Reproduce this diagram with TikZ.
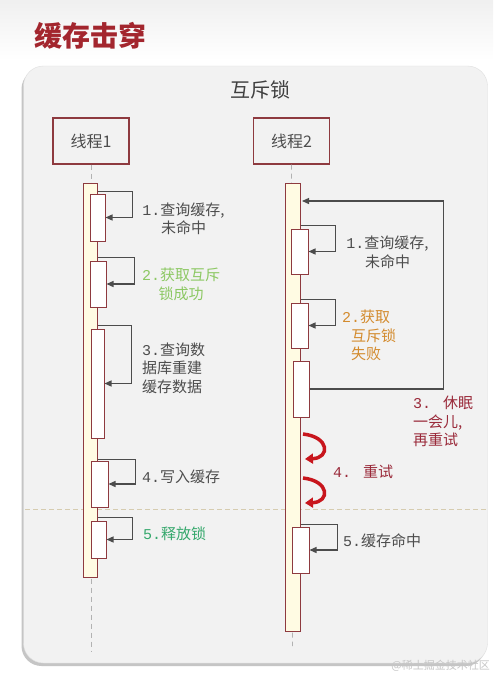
\documentclass[tikz,border=0pt]{standalone}
\usepackage{fontspec}
\setmainfont{Noto Sans CJK SC}
\newfontfamily\monof{Liberation Mono}
\usetikzlibrary{arrows.meta,shadows,calc}
\definecolor{titlered}{HTML}{A3262E}
\definecolor{boxred}{HTML}{8E3A3F}
\definecolor{txtgray}{HTML}{4D4D4D}
\definecolor{lightgreen}{HTML}{8CC863}
\definecolor{tealgreen}{HTML}{35A86C}
\definecolor{orangetxt}{HTML}{D38B2E}
\definecolor{darkred}{HTML}{9A2A3A}
\definecolor{retryred}{HTML}{C8161D}
\definecolor{panelbg}{HTML}{F2F2F2}
\definecolor{barfill}{HTML}{FFFBE3}
\definecolor{sepline}{HTML}{D6CCB0}
\begin{document}
\begin{tikzpicture}[x=1pt,y=-1pt,
  header/.style={draw=boxred,line width=1.3pt,fill=panelbg,minimum width=76pt,minimum height=46pt,inner sep=0pt,text=txtgray,font=\fontsize{16}{18}\selectfont},
  actbar/.style={draw=boxred,line width=1pt,fill=barfill,inner sep=0pt},
  actbox/.style={draw=boxred,line width=1pt,fill=white,inner sep=0pt},
  lifeline/.style={draw=gray!60,line width=0.8pt,dash pattern=on 5pt off 4pt},
  loopline/.style={draw=black!70,line width=1.3pt,-{Triangle[length=7pt,width=6pt]}},
  retry/.style={draw=retryred,line width=3.5pt,-{Triangle[length=8pt,width=10pt]}},
  body/.style={inner sep=0pt,font=\fontsize{15}{18.5}\selectfont},
]
\useasboundingbox (0,0) rectangle (493,675);
% page background
\fill[white] (0,0) rectangle (493,675);
\shade[top color=gray!12,bottom color=white] (0,0) rectangle (493,60);
% title
\node[text=titlered,font=\fontsize{28}{30}\selectfont\bfseries,anchor=west,inner sep=0pt] (title) at (34,36) {缓存击穿};
% panel
\node[draw=gray!25,fill=panelbg,rounded corners=20pt,minimum width=464pt,minimum height=597pt,inner sep=0pt,
  drop shadow={shadow xshift=-2pt,shadow yshift=-3pt,fill=black!45,opacity=0.5}] (panel) at (255.5,364.5) {};
\node[text=black!75,font=\fontsize{20}{22}\selectfont,inner sep=0pt] (sub) at (260,90) {互斥锁};
% headers
\node[header] (h1) at (91,141) {线程1};
\node[header] (h2) at (291.5,141) {线程2};
% separator
\coordinate (sepL) at (25,509);
\coordinate (sepR) at (487,509);
\draw[sepline,line width=0.8pt,dash pattern=on 5pt off 3pt] (sepL) -- (sepR);
% lifelines
\coordinate (l1end) at (91,652);
\coordinate (l2end) at (292.5,646);
\draw[lifeline] (h1.south) -- (l1end);
\draw[lifeline] (h2.south) -- (l2end);
% activation bars
\node[actbar,minimum width=14pt,minimum height=394pt] (bar1) at (90,380) {};
\node[actbar,minimum width=15pt,minimum height=448pt] (bar2) at (292.5,407) {};
% thread1 boxes
\node[actbox,minimum width=15pt,minimum height=47pt] (a1) at (97.5,217.5) {};
\node[actbox,minimum width=16pt,minimum height=46pt] (a2) at (98,284) {};
\node[actbox,minimum width=13pt,minimum height=109pt] (a3) at (97.5,383.5) {};
\node[actbox,minimum width=17pt,minimum height=46pt] (a4) at (99.5,484) {};
\node[actbox,minimum width=15pt,minimum height=37pt] (a5) at (98.5,539.5) {};
% thread1 loops
\draw[loopline] ([yshift=2pt]a1.north -| bar1.east) -- ++(35,0) |- (a1.east);
\draw[loopline] ([yshift=3pt]a2.north -| bar1.east) -- ++(37,0) |- (a2.east);
\draw[loopline] ([yshift=3pt]a3.north -| bar1.east) -- ++(34,0) |- (a3.east);
\draw[loopline] ([yshift=1pt]a4.north -| bar1.east) -- ++(38,0) |- (a4.east);
\draw[loopline] ([yshift=3pt]a5.north -| bar1.east) -- ++(35,0) |- (a5.east);
% thread1 texts
\node[body,text=txtgray,align=center] (t11) at (183.5,219) {{\monof 1.}查询缓存,\\未命中};
\node[body,text=lightgreen,align=center] (t12) at (181,284.5) {{\monof 2.}获取互斥\\锁成功};
\node[body,text=txtgray,align=left,anchor=west] (t13) at (142,368) {{\monof 3.}查询数\\据库重建\\缓存数据};
\node[body,text=txtgray,anchor=west] (t14) at (142,477) {{\monof 4.}写入缓存};
\node[body,text=tealgreen,anchor=west] (t15) at (143,534) {{\monof 5.}释放锁};
% thread2 boxes
\node[actbox,minimum width=17pt,minimum height=45pt] (b1) at (299.5,251.5) {};
\node[actbox,minimum width=17pt,minimum height=45pt] (b2) at (299.5,325.5) {};
\node[actbox,minimum width=16pt,minimum height=56pt] (b3) at (301,389) {};
\node[actbox,minimum width=17pt,minimum height=46pt] (b5) at (300.5,550) {};
% thread2 loops
\draw[loopline] ([yshift=3pt]b1.north -| bar2.east) -- ++(35,0) |- (b1.east);
\draw[loopline] ([yshift=3pt]b2.north -| bar2.east) -- ++(35,0) |- (b2.east);
\draw[loopline] ([yshift=2pt]b5.north -| bar2.east) -- ++(37,0) |- (b5.east);
\coordinate (sleepTop) at (302,201);
\draw[loopline] (b3.east) -- ++(134,0) |- (sleepTop);
% retry arrows
\coordinate (r1s) at (303,434);
\coordinate (r1e) at (305,459);
\coordinate (r2s) at (303,478);
\coordinate (r2e) at (305,503);
\draw[retry] (r1s) .. controls (330,437) and (330,458) .. (r1e);
\draw[retry] (r2s) .. controls (330,481) and (330,502) .. (r2e);
% thread2 texts
\node[body,text=txtgray,align=center] (t21) at (387.5,252.5) {{\monof 1.}查询缓存,\\未命中};
\node[body,text=orangetxt,align=left,anchor=west] (t22) at (342,335.5) {{\monof 2.}获取\\\hspace*{9pt}互斥锁\\\hspace*{9pt}失败};
\node[body,text=darkred,align=left,anchor=west] (t23) at (413,421.5) {{\monof 3. }休眠\\一会儿,\\再重试};
\node[body,text=darkred,anchor=west] (t24) at (333,472) {{\monof 4. }重试};
\node[body,text=txtgray,anchor=west] (t25) at (343,541) {{\monof 5.}缓存命中};
% watermark
\node[text=gray!45,font=\fontsize{11}{12}\selectfont,anchor=east,inner sep=0pt] (wm) at (490,666) {@稀土掘金技术社区};
\end{tikzpicture}
\end{document}
